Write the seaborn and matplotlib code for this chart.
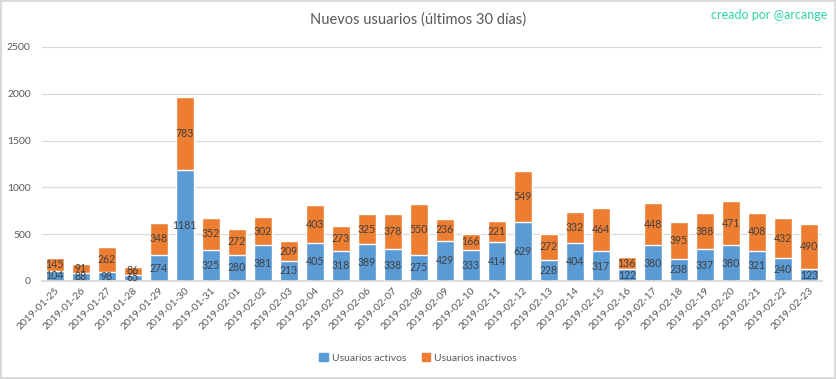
import pandas as pd
import matplotlib
matplotlib.use("Agg")
import matplotlib.pyplot as plt
import seaborn as sns
from matplotlib.patches import Patch

# Data
fechas = pd.date_range("2019-01-25", "2019-02-23").strftime("%Y-%m-%d").tolist()
activos = [104, 88, 98, 65, 274, 1181, 325, 280, 381, 213, 405, 318, 389, 338, 275,
           429, 333, 414, 629, 228, 404, 317, 122, 380, 238, 337, 380, 321, 240, 123]
inactivos = [145, 91, 262, 86, 348, 783, 352, 272, 302, 209, 403, 273, 325, 378, 550,
             236, 166, 221, 549, 272, 332, 464, 136, 448, 395, 388, 471, 408, 432, 490]

AZUL = "#5B9BD5"
NARANJA = "#ED7D31"
GRIS_TXT = "#595959"
GRIS_LBL = "#404040"

df = pd.DataFrame({"Fecha": fechas, "Activos": activos, "Inactivos": inactivos})
df["Total"] = df["Activos"] + df["Inactivos"]

sns.set_theme(style="white")
plt.rcParams["font.family"] = ["Lato", "DejaVu Sans"]

fig = plt.figure(figsize=(8.36, 3.79), dpi=100, linewidth=1.5, edgecolor="#D9D9D9")
ax = fig.add_axes([0.050, 0.259, 0.933, 0.617])

# Stacked bars: totals (orange) behind, active users (blue) in front
sns.barplot(data=df, x="Fecha", y="Total", color=NARANJA, saturation=1, width=0.7, ax=ax)
sns.barplot(data=df, x="Fecha", y="Activos", color=AZUL, saturation=1, width=0.7, ax=ax)

for i, row in df.iterrows():
    ax.text(i, row["Activos"] / 2, str(row["Activos"]), ha="center", va="center",
            fontsize=7.6, color=GRIS_LBL)
    ax.text(i, row["Activos"] + row["Inactivos"] / 2, str(row["Inactivos"]), ha="center",
            va="center", fontsize=7.6, color=GRIS_LBL)

ax.set_ylim(0, 2500)
ax.set_yticks(range(0, 2501, 500))
ax.set_xlim(-0.5, len(fechas) - 0.5)
ax.grid(axis="y", color="#D9D9D9", linewidth=0.9)
ax.set_axisbelow(True)
for s in ["top", "right", "left"]:
    ax.spines[s].set_visible(False)
ax.spines["bottom"].set_color("#D9D9D9")
ax.set_xlabel("")
ax.set_ylabel("")
ax.tick_params(axis="both", length=0, labelsize=7.5, labelcolor=GRIS_TXT)
ax.tick_params(axis="y", pad=8)
plt.setp(ax.get_xticklabels(), rotation=45, ha="right", rotation_mode="anchor")

fig.text(0.5, 1 - 20 / 379, "Nuevos usuarios (últimos 30 días)", ha="center", va="center",
         fontsize=10.5, color=GRIS_TXT)
fig.text(0.99, 1 - 15 / 379, "creado por @arcange", ha="right", va="center",
         fontsize=9, color="#2ED3A8")

handles = [Patch(color=AZUL, label="Usuarios activos"),
           Patch(color=NARANJA, label="Usuarios inactivos")]
fig.legend(handles=handles, loc="center", bbox_to_anchor=(0.5, 1 - 358 / 379), ncol=2,
           frameon=False, fontsize=7.5, handlelength=0.8, handleheight=0.8,
           handletextpad=0.4, columnspacing=1.5, labelcolor=GRIS_TXT)

fig.savefig("out.png", dpi=100)
